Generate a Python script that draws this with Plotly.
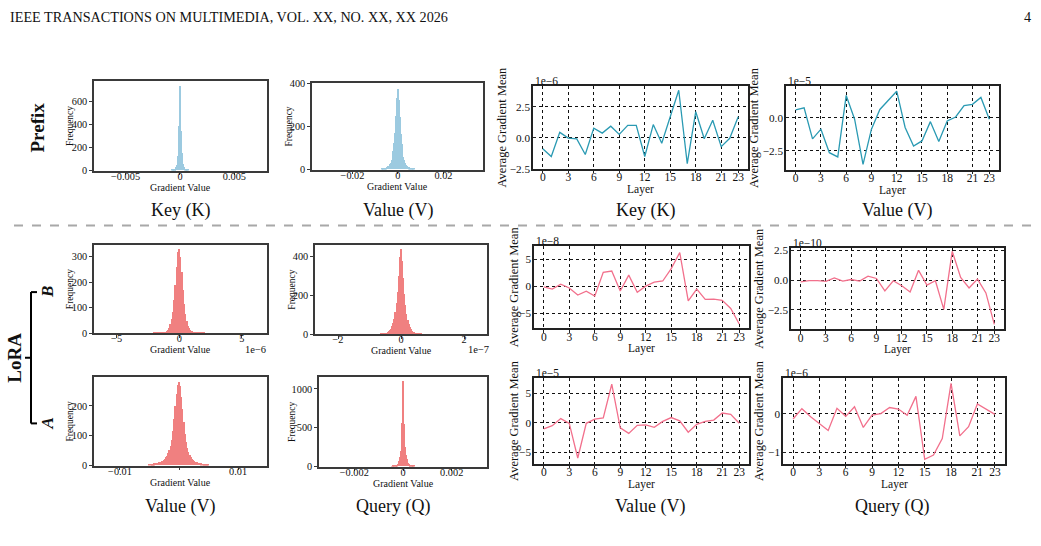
import plotly.graph_objects as go

W, H = 1041, 546
FONT = "Liberation Serif"

# ---------------- data ----------------
layers = list(range(24))

# average gradient means (in units of the offset shown above each axis)
prefix_key_mean = [-0.9, -1.52, 0.43, -0.03, -0.1, -1.36, 0.77, 0.37, 0.93, 0.27, 1.0, 1.0,
                   -1.52, 1.06, -0.45, 1.68, 3.83, -2.1, 2.1, -0.08, 1.41, -0.72, -0.05, 1.7]      # 1e-6
prefix_value_mean = [0.59, 0.74, -1.61, -0.87, -2.65, -2.97, 1.68, -0.12, -3.54, -0.87, 0.62, 1.29,
                     2.0, -0.74, -2.15, -1.76, -0.3, -1.81, -0.25, 0.05, 0.92, 1.01, 1.53, -0.12]   # 1e-5
lora_b_value_mean = [-0.1, -0.5, 0.4, -0.3, -1.6, -0.9, -1.8, 2.6, 2.85, -0.85, 2.1, -1.1,
                     0.05, 0.8, 1.0, 3.3, 6.3, -2.7, -0.5, -2.4, -2.35, -2.6, -4.1, -7.0]         # 1e-8
lora_b_query_mean = [-0.14, -0.05, -0.05, -0.1, 0.19, -0.08, 0.05, -0.08, 0.33, 0.14, -0.9, -0.05,
                     -0.47, -1.0, 0.82, -0.41, -0.05, -2.45, 2.42, 0.22, -0.66, 0.08, -1.07, -3.7]  # 1e-10
lora_a_value_mean = [-1.04, -0.5, 0.7, -0.1, -5.96, -0.1, 0.6, 0.8, 6.5, -0.87, -1.8, -0.44,
                     -0.38, -0.77, 0.22, 0.87, 0.33, -1.6, -0.27, 0.22, 0.44, 1.64, 1.42, -0.1]    # 1e-5
lora_a_query_mean = [-0.14, 0.13, -0.08, -0.25, -0.44, 0.14, -0.07, 0.18, -0.36, -0.04, 0.0, 0.16,
                     0.12, -0.04, 0.45, -1.19, -1.08, -0.65, 0.79, -0.58, -0.34, 0.25, 0.11, -0.02] # 1e-6

# histograms: bin width, first bin centre, counts
prefix_key_w = 0.00006
prefix_key_start = -0.00072
prefix_key_counts = [2, 3, 5, 7, 10, 15, 25, 45, 80, 120, 370, 385, 730,
                     375, 340, 150, 90, 50, 30, 18, 12, 8, 5, 3, 2]

prefix_value_w = 0.0004
prefix_value_start = -0.0072
prefix_value_counts = [2, 2, 3, 4, 5, 7, 10, 13, 17, 22, 30, 42, 60, 85, 120, 170, 245, 330, 370,
                       320, 240, 165, 118, 82, 58, 41, 29, 21, 16, 12, 9, 7, 5, 4, 3, 2, 2]

lora_b_value_w = 0.1          # 1e-6
lora_b_value_start = -2.0
lora_b_value_counts = [1, 1, 2, 2, 2, 3, 3, 4, 5, 6, 9, 14, 22, 35, 55, 85, 130, 190, 260, 320, 330,
                       300, 240, 170, 115, 75, 48, 30, 20, 13, 8, 6, 5, 4, 3, 3, 2, 2, 2, 1, 1]

lora_b_query_w = 0.035        # 1e-7
lora_b_query_start = -0.63
lora_b_query_counts = [2, 3, 3, 4, 5, 7, 10, 14, 20, 28, 40, 56, 80, 115, 160, 220, 300, 400, 440,
                       380, 290, 210, 150, 105, 75, 52, 36, 25, 18, 13, 9, 7, 5, 4, 3, 3, 2]

lora_a_value_w = 0.0002
lora_a_value_start = -0.005
lora_a_value_counts = [2, 3, 4, 5, 6, 7, 8, 9, 10, 11, 12, 14, 16, 20, 26, 32, 40, 50, 65, 85, 115, 155, 200, 240, 270,
                       280,
                       265, 230, 190, 145, 105, 78, 58, 45, 35, 28, 22, 18, 14, 12, 10, 9, 8, 7, 6, 5, 5, 4, 3, 3, 2]

lora_a_query_w = 0.00003
lora_a_query_start = -0.00045
lora_a_query_counts = [2, 3, 4, 5, 7, 10, 14, 20, 30, 45, 70, 120, 200, 300, 560, 1100,
                       540, 420, 250, 150, 90, 60, 40, 28, 20, 14, 10, 7, 5, 4, 3]

layer_ticks = [0, 3, 6, 9, 12, 15, 18, 21, 23]

# ---------------- styling ----------------
BLUE_H = "#9ccae0"
RED_H = "#f08080"
TEAL = "#2a9ab3"
PINK = "#f2708c"


def xd(a, b):
    return [a / W, b / W]


def yd(top, bottom):
    return [1 - bottom / H, 1 - top / H]


def px(x):
    return x / W


def py(y):
    return 1 - y / H


def ann(x, y, text, size, **kw):
    d = dict(x=px(x), y=py(y), xref="paper", yref="paper", text=text, showarrow=False,
             xanchor="center", yanchor="middle",
             font=dict(family=FONT, size=size, color="#111"))
    d.update(kw)
    return d


fig = go.Figure()
layout = dict(
    width=W, height=H, margin=dict(l=0, r=0, t=0, b=0),
    paper_bgcolor="white", plot_bgcolor="white", showlegend=False,
    font=dict(family=FONT, color="#111"), bargap=0,
)
annotations = []
shapes = []

hist_panels = [
    ((94, 267, 78, 169), prefix_key_counts, prefix_key_start, prefix_key_w, BLUE_H,
     [-0.0079, 0.0080], [0, 775], [-0.005, 0, 0.005], ["−0.005", "0", "0.005"], [0, 200, 400, 600]),
    ((312, 483, 80, 168), prefix_value_counts, prefix_value_start, prefix_value_w, BLUE_H,
     [-0.0378, 0.0374], [0, 400], [-0.02, 0, 0.02], ["−0.02", "0", "0.02"], [0, 200, 400]),
    ((94, 267, 245, 335), lora_b_value_counts, lora_b_value_start, lora_b_value_w, RED_H,
     [-6.8, 7.0], [0, 346], [-5, 0, 5], ["−5", "0", "5"], [0, 100, 200, 300]),
    ((315, 487, 245, 336), lora_b_query_counts, lora_b_query_start, lora_b_query_w, RED_H,
     [-2.73, 2.73], [0, 461], [-2, 0, 2], ["−2", "0", "2"], [0, 200, 400]),
    ((94, 267, 380, 470), lora_a_value_counts, lora_a_value_start, lora_a_value_w, RED_H,
     [-0.0144, 0.0149], [0, 296], [-0.01, 0, 0.01], ["−0.01", "", "0.01"], [0, 100, 200]),
    ((319, 487, 380, 471), lora_a_query_counts, lora_a_query_start, lora_a_query_w, RED_H,
     [-0.00345, 0.00345], [0, 1150], [-0.002, 0, 0.002], ["−0.002", "0", "0.002"], [0, 500, 1000]),
]

line_panels = [
    ((533, 748, 83, 167), prefix_key_mean, TEAL, [-2.5, 4.15], [-2.5, 0, 2.5], ["−2.5", "0.0", "2.5"], "1e−6", 502),
    ((786, 999, 83, 168), prefix_value_mean, TEAL, [-3.93, 2.37], [-2.5, 0], ["−2.5", "0.0"], "1e−5", 754),
    ((534, 749, 246, 330), lora_b_value_mean, PINK, [-7.8, 7.5], [-5, 0, 5], ["−5", "0", "5"], "1e−8", 514),
    ((791, 1004, 248, 331), lora_b_query_mean, PINK, [-4.12, 2.69], [-2.5, 0, 2.5], ["−2.5", "0.0", "2.5"], "1e−10", 759),
    ((534, 749, 381, 468), lora_a_value_mean, PINK, [-6.9, 7.5], [-5, 0, 5], ["−5", "0", "5"], "1e−5", 514),
    ((783, 1005, 381, 468), lora_a_query_mean, PINK, [-1.3, 0.92], [-1, 0], ["−1", "0"], "1e−6", 759),
]

idx = 0
hist_freq_x = [70, 289, 70, 292, 70, 292]
for k, (box, counts, start, w, col, xr, yr, xt, xtt, yt) in enumerate(hist_panels):
    idx += 1
    s = "" if idx == 1 else str(idx)
    l, r, t, b = box
    centers = [start + i * w for i in range(len(counts))]
    fig.add_trace(go.Bar(x=centers, y=counts, width=w, marker=dict(color=col, line=dict(width=0)),
                         xaxis="x" + s, yaxis="y" + s, hoverinfo="skip"))
    common = dict(showline=True, mirror=True, linecolor="#3a3a3a", linewidth=1.5, showgrid=False,
                  zeroline=False, ticks="outside", ticklen=3, tickwidth=1, tickcolor="#3a3a3a",
                  tickfont=dict(family=FONT, size=10.3, color="#111"))
    layout["xaxis" + s] = dict(domain=xd(l, r), range=xr, anchor="y" + s, tickvals=xt, ticktext=xtt,
                               ticklabelstandoff=-8, **common)
    layout["yaxis" + s] = dict(domain=yd(t, b), range=yr, anchor="x" + s, tickvals=yt,
                               ticktext=[str(v) for v in yt], **common)
    annotations.append(ann(hist_freq_x[k], (t + b) / 2, "Frequency", 9.5, textangle=-90))
    annotations.append(ann((l + r) / 2, b + 17, "Gradient Value", 10))

# hist offset texts
annotations.append(ann(268, 352, "1e−6", 10.5, xanchor="right"))
annotations.append(ann(491, 352, "1e−7", 10.5, xanchor="right"))

for (box, vals, col, yr, yt, ytt, off, titx) in line_panels:
    idx += 1
    s = str(idx)
    l, r, t, b = box
    fig.add_trace(go.Scatter(x=layers, y=vals, mode="lines", line=dict(color=col, width=1.3),
                             xaxis="x" + s, yaxis="y" + s, hoverinfo="skip"))
    common = dict(showline=True, mirror=True, linecolor="#222", linewidth=1.5, showgrid=True,
                  gridcolor="#111", griddash="dot", gridwidth=1, zeroline=False,
                  tickwidth=1, tickcolor="#222")
    layout["xaxis" + s] = dict(domain=xd(l, r), range=[-1.15, 24.15], anchor="y" + s,
                               tickvals=layer_ticks, ticktext=[str(v) for v in layer_ticks],
                               ticks="outside", ticklen=3, ticklabelstandoff=-6,
                               tickfont=dict(family=FONT, size=11.5, color="#111"), **common)
    layout["yaxis" + s] = dict(domain=yd(t, b), range=yr, anchor="x" + s, tickvals=yt, ticktext=ytt,
                               ticks="inside", ticklen=3, ticklabelstandoff=-1,
                               tickfont=dict(family=FONT, size=11.2, color="#111"), **common)
    annotations.append(ann(titx, (t + b) / 2, "Average Gradient Mean", 12.5, textangle=-90))
    annotations.append(ann((l + r) / 2, b + 21, "Layer", 11.5))
    annotations.append(ann(l, t - 5, off, 11.5, xanchor="left"))

# subtitles
for x, y, txt in [(180, 210, "Key (K)"), (398, 210, "Value (V)"), (645, 210, "Key (K)"), (897, 210, "Value (V)"),
                  (180, 512, "Value (V)"), (393, 512, "Query (Q)"), (650, 512, "Value (V)"), (892, 512, "Query (Q)")]:
    annotations.append(ann(x, y, txt, 18))

# row labels
annotations.append(ann(37, 125, "<b>Prefix</b>", 19, textangle=-90))
annotations.append(ann(15, 360, "<b>LoRA</b>", 19, textangle=-90))
annotations.append(ann(47, 293, "<b><i>B</i></b>", 17, textangle=-90))
annotations.append(ann(47, 427, "<b><i>A</i></b>", 17, textangle=-90))

# header
annotations.append(ann(8, 12, "IEEE TRANSACTIONS ON MULTIMEDIA, VOL. XX, NO. XX, XX 2026", 14.2, xanchor="left"))
annotations.append(ann(1033, 12, "4", 14.2, xanchor="right"))

# bracket
bk = dict(type="line", xref="paper", yref="paper", line=dict(color="black", width=2))
shapes.append(dict(bk, x0=px(31), x1=px(31), y0=py(293), y1=py(427)))
shapes.append(dict(bk, x0=px(31), x1=px(37), y0=py(293), y1=py(293)))
shapes.append(dict(bk, x0=px(31), x1=px(37), y0=py(427), y1=py(427)))
shapes.append(dict(bk, x0=px(25), x1=px(31), y0=py(360), y1=py(360)))
# separator
shapes.append(dict(type="line", xref="paper", yref="paper", x0=px(14), x1=px(1036), y0=py(225), y1=py(225),
                   line=dict(color="#a8a8a8", width=2, dash="dash")))

layout["annotations"] = annotations
layout["shapes"] = shapes
fig.update_layout(**layout)
fig.write_html("out.html")
